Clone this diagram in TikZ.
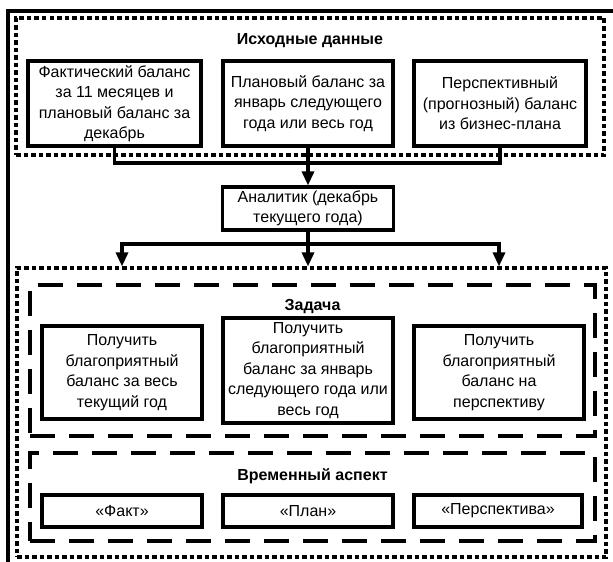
\documentclass[tikz,border=0pt]{standalone}
\usepackage{fontspec}
\setmainfont{Liberation Sans}
\usetikzlibrary{arrows.meta}

\begin{document}
\begin{tikzpicture}[x=1pt,y=-1pt,
		box/.style={draw, line width=3.2pt, align=center, inner sep=0pt, font=\fontsize{16}{20.5}\selectfont},
		dotframe/.style={draw, line width=3.2pt, dash pattern=on 4.5pt off 3pt, inner sep=0pt},
		dashframe/.style={draw, line width=3.8pt, dash pattern=on 25pt off 14pt, inner sep=0pt},
		head/.style={font=\fontsize{16}{20}\selectfont\bfseries},
		link/.style={line width=3.2pt},
		arr/.style={line width=3.2pt, -{Triangle[width=12pt,length=14pt]}}]
		\useasboundingbox (0,0) rectangle (613,562);
		\def \top{ 103.5 };
		\def \mid{ 372.5 };
		\def \low{ 511 };
		% outer frame
		\draw[line width=4.6pt] (8,562) -- (8,11) -- (613,11);
		% source data
		\node[dotframe, minimum width=588pt, minimum height=137pt] (src) at (310,86.5) {};
		\node[head] (srct) at (310,41) {Исходные данные};
		\node[box, minimum width=173pt, minimum height=85pt] (fact) at (114.5,\top) {Фактический баланс\\за 11 месяцев и\\плановый баланс за\\декабрь};
		\node[box, minimum width=170pt, minimum height=85pt] (plan) at (308,\top) {Плановый баланс за\\январь следующего\\года или весь год};
		\node[box, minimum width=172pt, minimum height=85pt] (persp) at (500,\top) {Перспективный\\(прогнозный) баланс\\из бизнес-плана};
		\node[box, minimum width=171pt, minimum height=43pt] (an) at (308,208.5) {Аналитик (декабрь\\текущего года)};
		\coordinate (join) at (308,163);
		\coordinate (fork) at (308,244);
		\draw[link] (fact.south) |- (join) -| (persp.south);
		\draw[arr] (plan.south) -- (an.north);
		% result
		\node[dotframe, minimum width=589pt, minimum height=289pt] (res) at (311.5,412.5) {};
		\node[dashframe, minimum width=565pt, minimum height=151pt] (task) at (312.5,360.5) {};
		\node[head] (taskt) at (312.5,307) {Задача};
		\node[box, minimum width=160pt, minimum height=93pt] (goal1) at (122,\mid) {Получить\\благоприятный\\баланс за весь\\текущий год};
		\node[box, minimum width=170pt, minimum height=105pt] (goal2) at (308,370.5) {Получить\\благоприятный\\баланс за январь\\следующего года или\\весь год};
		\node[box, minimum width=170pt, minimum height=93pt] (goal3) at (499,\mid) {Получить\\благоприятный\\баланс на\\перспективу};
		\node[dashframe, minimum width=565pt, minimum height=88pt] (time) at (312.5,497) {};
		\node[head] (timet) at (312.5,476) {Временный аспект};
		\node[box, minimum width=160pt, minimum height=32pt] (fct) at (122,\low) {«Факт»};
		\node[box, minimum width=170pt, minimum height=32pt] (pln) at (308,\low) {«План»};
		\node[box, minimum width=168pt, minimum height=32pt] (prs) at (498,\low) {«Перспектива»};
		\draw[arr] (an.south) -- (an.south |- res.north);
		\draw[arr] (fork) -| (goal1 |- res.north);
		\draw[arr] (fork) -| (goal3 |- res.north);
	\end{tikzpicture}
\end{document}
